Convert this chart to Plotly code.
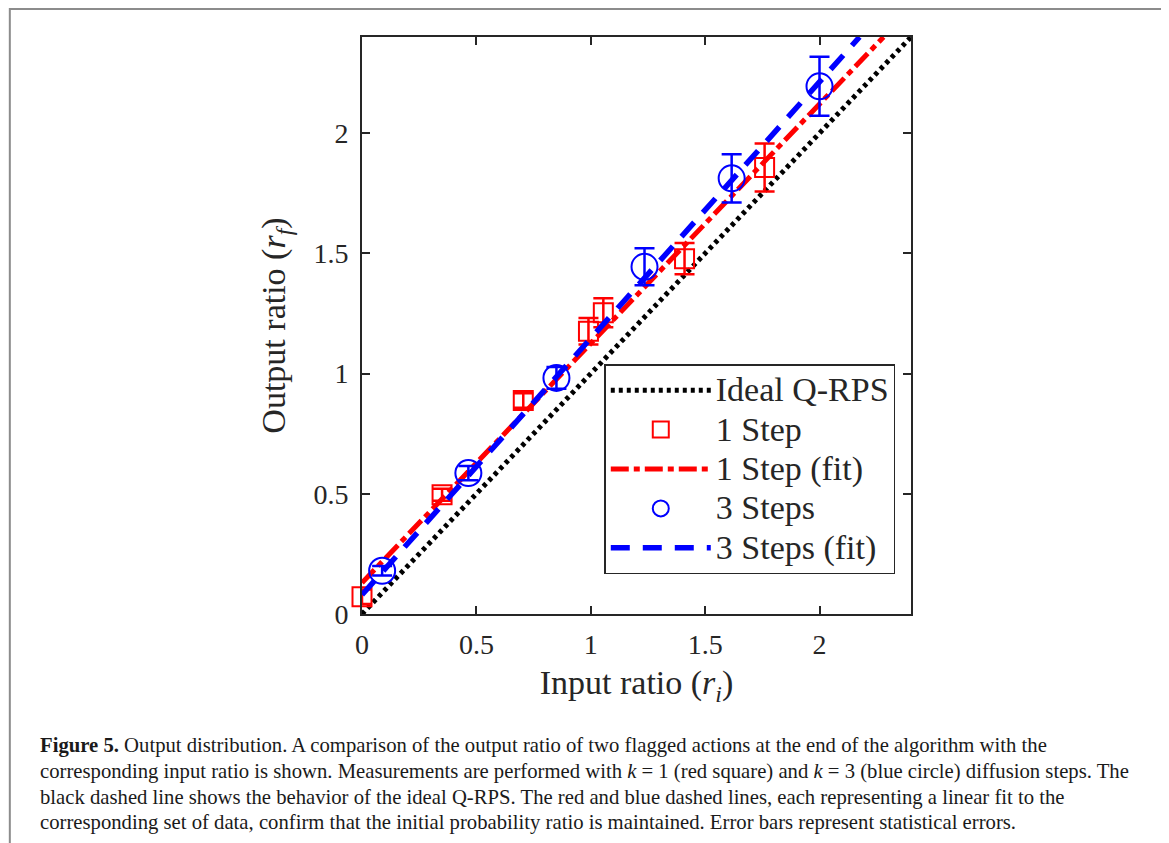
import plotly.graph_objects as go

# ---- data ----
red_x = [0.0, 0.35, 0.705, 0.99, 1.055, 1.41, 1.76]
red_y = [0.072, 0.496, 0.888, 1.176, 1.253, 1.478, 1.857]
red_err = [0.03, 0.025, 0.03, 0.055, 0.06, 0.065, 0.10]

blue_x = [0.088, 0.465, 0.85, 1.235, 1.616, 2.0]
blue_y = [0.18, 0.586, 0.982, 1.444, 1.812, 2.195]
blue_err = [0.02, 0.03, 0.045, 0.077, 0.10, 0.123]

ideal_x = [0.0, 2.4]
ideal_y = [0.0, 2.4]
red_fit_x = [0.0, 2.28]
red_fit_y = [0.13, 2.40]
blue_fit_x = [0.0, 2.175]
blue_fit_y = [0.08, 2.40]

tick_vals = [0, 0.5, 1, 1.5, 2]
tick_text = ["0", "0.5", "1", "1.5", "2"]

legend_names = ["Ideal Q-RPS", "1 Step", "1 Step (fit)", "3 Steps", "3 Steps (fit)"]

caption_lines = [
    "<b>Figure 5.</b> Output distribution. A comparison of the output ratio of two flagged actions at the end of the algorithm with the",
    "corresponding input ratio is shown. Measurements are performed with <i>k</i> = 1 (red square) and <i>k</i> = 3 (blue circle) diffusion steps. The",
    "black dashed line shows the behavior of the ideal Q-RPS. The red and blue dashed lines, each representing a linear fit to the",
    "corresponding set of data, confirm that the initial probability ratio is maintained. Error bars represent statistical errors.",
]

SERIF = "Liberation Serif, Times New Roman, serif"
AX = "#262626"

# page geometry (pixels); the page body adds an 8px offset
OFF = 8
PAGE_W, PAGE_H = 1169, 843
L, R, T, B = 361.5, 911, 37, 614
pw, ph = R - L, B - T


def px2x(px):
    return (px - L) / pw


def py2y(py):
    return (B - py) / ph


def leg(name):
    return '<span style="font-size:34px">' + name + "</span>"


fig = go.Figure()

fig.add_trace(go.Scatter(
    x=ideal_x, y=ideal_y, mode="lines", name=leg(legend_names[0]),
    line=dict(color="black", width=5, dash="4px,4px"),
))
fig.add_trace(go.Scatter(
    x=red_x, y=red_y, mode="markers", name=leg(legend_names[1]),
    marker=dict(symbol="square-open", size=19, color="#ff0000", line=dict(width=2)),
    error_y=dict(type="data", array=red_err, color="#ff0000", thickness=2.5, width=10),
    cliponaxis=False,
))
fig.add_trace(go.Scatter(
    x=red_fit_x, y=red_fit_y, mode="lines", name=leg(legend_names[2]),
    line=dict(color="#ff0000", width=5, dash="18px,5px,6px,5px"),
))
fig.add_trace(go.Scatter(
    x=blue_x, y=blue_y, mode="markers", name=leg(legend_names[3]),
    marker=dict(symbol="circle-open", size=26, color="#0000ff", line=dict(width=2)),
    error_y=dict(type="data", array=blue_err, color="#0000ff", thickness=2.5, width=10),
    cliponaxis=False,
))
fig.add_trace(go.Scatter(
    x=blue_fit_x, y=blue_fit_y, mode="lines", name=leg(legend_names[4]),
    line=dict(color="#0000ff", width=5.5, dash="19px,13px"),
))

axis_common = dict(
    range=[0, 2.4], tickvals=tick_vals, ticktext=tick_text,
    ticks="inside", ticklen=8, tickwidth=1.5, tickcolor=AX,
    showline=True, linecolor=AX, linewidth=2, mirror="ticks",
    showgrid=False, zeroline=False,
    tickfont=dict(family=SERIF, size=28, color=AX),
)

fig.update_xaxes(**axis_common, ticklabelstandoff=4,
                 title=dict(text="Input ratio (<i>r</i><sub><i>i</i></sub>)",
                            font=dict(family=SERIF, size=34, color=AX), standoff=12))
fig.update_yaxes(**axis_common, ticklabelstandoff=6,
                 title=dict(text="Output ratio (<i>r</i><sub><i>f</i></sub>)",
                            font=dict(family=SERIF, size=34, color=AX), standoff=18))

annotations = []
cap_y = [745, 771, 797, 822]
for line, yy in zip(caption_lines, cap_y):
    annotations.append(dict(
        text=line, xref="paper", yref="paper", x=px2x(37), y=py2y(yy),
        xanchor="left", yanchor="middle", showarrow=False, align="left",
        font=dict(family=SERIF, size=20.7, color="#1a1a1a"),
    ))

fig.update_layout(
    width=PAGE_W - OFF, height=PAGE_H - OFF,
    margin=dict(l=L - OFF, r=PAGE_W - R, t=T - OFF, b=PAGE_H - B, pad=0),
    paper_bgcolor="white", plot_bgcolor="white",
    showlegend=True,
    legend=dict(
        x=px2x(604), y=py2y(364), xanchor="left", yanchor="top",
        bgcolor="white", bordercolor=AX, borderwidth=1.5,
        font=dict(family=SERIF, size=28, color=AX),
        itemwidth=100,
    ),
    annotations=annotations,
    shapes=[dict(
        type="rect", xref="paper", yref="paper",
        x0=px2x(9), x1=px2x(1166), y0=py2y(860), y1=py2y(9),
        line=dict(color="#8c8c8c", width=2), fillcolor="rgba(0,0,0,0)", layer="below",
    )],
)

fig.write_html("out.html")
